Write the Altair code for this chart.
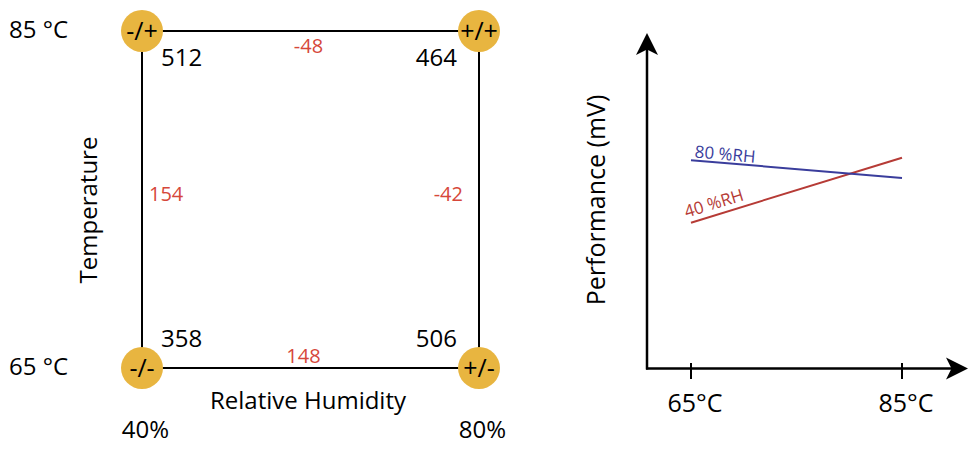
import altair as alt
import pandas as pd

# ---------------- data ----------------
HUMIDITY = [40, 80, 40, 80]          # % RH  (corner x)
TEMPERATURE = [65, 65, 85, 85]       # deg C (corner y)
CODES = ["-/-", "+/-", "-/+", "+/+"]
PERF = [358, 506, 512, 464]          # mV at each corner

EDGE_NAMES = ["top", "bottom", "left", "right"]
EDGE_H1 = [40, 40, 40, 80]
EDGE_H2 = [80, 80, 40, 80]
EDGE_T1 = [85, 65, 65, 65]
EDGE_T2 = [85, 65, 85, 85]
EDGE_LABELS = ["-48", "148", "154", "-42"]

LINE_TEMP = [65, 85, 65, 85]
LINE_PERF = [358, 512, 506, 464]
LINE_SERIES = ["40 %RH", "40 %RH", "80 %RH", "80 %RH"]
SERIES_NAMES = ["40 %RH", "80 %RH"]

TEMP_TICKS = [65, 85]
TEMP_TICK_LABELS = ["65°C", "85°C"]
HUM_TICKS = [40, 80]
HUM_TICK_LABELS = ["40%", "80%"]
TEMP_LEVEL_LABELS = ["65 °C", "85 °C"]

# ---------------- styling ----------------
W, H = 960, 438
FONT = "Open Sans"
GOLD = "#E8B540"
RED_TXT = "#D6473A"
RED_LINE = "#B63B36"
BLUE = "#3A3D9C"


def domain(va, pa, vb, pb, p_lo, p_hi):
    k = (vb - va) / (pb - pa)
    return [va + (p_lo - pa) * k, va + (p_hi - pa) * k]


# left diagram scales (anchors in chart pixels)
LX = alt.Scale(domain=domain(40, 134, 80, 471, 0, W), nice=False, zero=False)
LY = alt.Scale(domain=domain(65, 360, 85, 23, H, 0), nice=False, zero=False)
# right plot scales
RX = alt.Scale(domain=domain(65, 683, 85, 894, 0, W), nice=False, zero=False)
RY = alt.Scale(domain=domain(358, 214.7, 512, 149.7, H, 0), nice=False, zero=False)

corners = pd.DataFrame({"hum": HUMIDITY, "temp": TEMPERATURE, "code": CODES,
                        "perf": [str(p) for p in PERF]})
edges = pd.DataFrame({"name": EDGE_NAMES, "h1": EDGE_H1, "h2": EDGE_H2,
                      "t1": EDGE_T1, "t2": EDGE_T2, "label": EDGE_LABELS})
edges["hm"] = (edges["h1"] + edges["h2"]) / 2
edges["tm"] = (edges["t1"] + edges["t2"]) / 2
lines = pd.DataFrame({"temp": LINE_TEMP, "perf": LINE_PERF, "series": LINE_SERIES})
one = pd.DataFrame({"k": [0]})

lx = lambda f: alt.X(f, type="quantitative", scale=LX, axis=None)
ly = lambda f: alt.Y(f, type="quantitative", scale=LY, axis=None)
rx = lambda f: alt.X(f, type="quantitative", scale=RX, axis=None)
ry = lambda f: alt.Y(f, type="quantitative", scale=RY, axis=None)

# ---------------- left panel ----------------
left_layers = []
left_layers.append(
    alt.Chart(edges).mark_rule(color="black", strokeWidth=2).encode(
        x=lx("h1"), x2="h2", y=ly("t1"), y2="t2"))
left_layers.append(
    alt.Chart(corners).mark_circle(size=1764, color=GOLD, opacity=1).encode(
        x=lx("hum"), y=ly("temp")))
left_layers.append(
    alt.Chart(corners).mark_text(font=FONT, fontSize=25, color="black",
                                 align="center", baseline="middle", dy=1).encode(
        x=lx("hum"), y=ly("temp"), text="code:N"))

corner_offsets = {(40, 85): ("left", 19, 35), (80, 85): ("right", -22, 35),
                  (40, 65): ("left", 19, -21), (80, 65): ("right", -22, -21)}
for (h, t), (al, dx, dy) in corner_offsets.items():
    left_layers.append(
        alt.Chart(corners).transform_filter(
            (alt.datum.hum == h) & (alt.datum.temp == t)
        ).mark_text(font=FONT, fontSize=24, color="black", align=al,
                    baseline="alphabetic", dx=dx, dy=dy).encode(
            x=lx("hum"), y=ly("temp"), text="perf:N"))

edge_offsets = {"top": ("center", -2, 22), "bottom": ("center", -7, -5),
                "left": ("left", 7, 1.5), "right": ("right", -16, 1.5)}
for name, (al, dx, dy) in edge_offsets.items():
    left_layers.append(
        alt.Chart(edges).transform_filter(alt.datum.name == name).mark_text(
            font=FONT, fontSize=20, color=RED_TXT, align=al,
            baseline="alphabetic", dx=dx, dy=dy).encode(
            x=lx("hm"), y=ly("tm"), text="label:N"))

temp_lv = pd.DataFrame({"temp": TEMP_TICKS, "label": TEMP_LEVEL_LABELS})
left_layers.append(
    alt.Chart(temp_lv).mark_text(font=FONT, fontSize=24, color="black",
                                 align="left", baseline="alphabetic", dy=7).encode(
        x=alt.value(1), y=ly("temp"), text="label:N"))
hum_lv = pd.DataFrame({"hum": HUM_TICKS, "label": HUM_TICK_LABELS})
left_layers.append(
    alt.Chart(hum_lv).mark_text(font=FONT, fontSize=24, color="black",
                                align="center", baseline="alphabetic", dx=3.5).encode(
        x=lx("hum"), y=alt.value(430), text="label:N"))
left_layers.append(
    alt.Chart(one).mark_text(font=FONT, fontSize=24, color="black", align="center",
                             baseline="alphabetic", angle=270).encode(
        x=alt.value(89), y=alt.value(202), text=alt.value("Temperature")))
left_layers.append(
    alt.Chart(one).mark_text(font=FONT, fontSize=24, color="black", align="center",
                             baseline="alphabetic").encode(
        x=alt.value(300), y=alt.value(401), text=alt.value("Relative Humidity")))

left = alt.layer(*left_layers)

# ---------------- right panel ----------------
right_layers = []
right_layers.append(
    alt.Chart(one).mark_rule(color="black", strokeWidth=2.5).encode(
        x=alt.value(639), y=alt.value(40), y2=alt.value(361.5)))
right_layers.append(
    alt.Chart(one).mark_rule(color="black", strokeWidth=2.5).encode(
        x=alt.value(638), x2=alt.value(950), y=alt.value(360.5)))
right_layers.append(
    alt.Chart(one).mark_point(shape="M0,-1L1,1L0,0.5L-1,1Z", size=484, filled=True,
                              color="black", opacity=1).encode(
        x=alt.value(639), y=alt.value(36)))
right_layers.append(
    alt.Chart(one).mark_point(shape="M1,0L-1,1L-0.5,0L-1,-1Z", size=484, filled=True,
                              color="black", opacity=1).encode(
        x=alt.value(949), y=alt.value(360.5)))
ticks = pd.DataFrame({"temp": TEMP_TICKS, "label": TEMP_TICK_LABELS})
right_layers.append(
    alt.Chart(ticks).mark_rule(color="black", strokeWidth=2).encode(
        x=rx("temp"), y=alt.value(355), y2=alt.value(371)))
right_layers.append(
    alt.Chart(ticks).mark_text(font=FONT, fontSize=25, color="black", align="center",
                               baseline="alphabetic", dx=4).encode(
        x=rx("temp"), y=alt.value(404), text="label:N"))
right_layers.append(
    alt.Chart(one).mark_text(font=FONT, fontSize=25, color="black", align="center",
                             baseline="alphabetic", angle=270).encode(
        x=alt.value(597), y=alt.value(192), text=alt.value("Performance (mV)")))

color = alt.Color("series:N", scale=alt.Scale(domain=SERIES_NAMES,
                                              range=[RED_LINE, BLUE]), legend=None)
right_layers.append(
    alt.Chart(lines).mark_line(strokeWidth=2).encode(
        x=rx("temp"), y=ry("perf"), color=color, detail="series:N"))

label_style = {"80 %RH": (BLUE, 5, 3, -3), "40 %RH": (RED_LINE, 343, -3, -6)}
for s, (c, ang, dx, dy) in label_style.items():
    right_layers.append(
        alt.Chart(lines).transform_filter(
            (alt.datum.series == s) & (alt.datum.temp == 65)
        ).mark_text(font=FONT, fontSize=17, color=c, align="left",
                    baseline="alphabetic", angle=ang, dx=dx, dy=dy).encode(
            x=rx("temp"), y=ry("perf"), text="series:N"))

right = alt.layer(*right_layers)

chart = alt.layer(left, right).resolve_scale(
    x="independent", y="independent", color="independent"
).properties(
    width=W, height=H, padding=0,
    autosize=alt.AutoSizeParams(type="none"),
).configure_view(stroke=None)

chart.save("out.html", embed_options={"renderer": "svg", "actions": False})
